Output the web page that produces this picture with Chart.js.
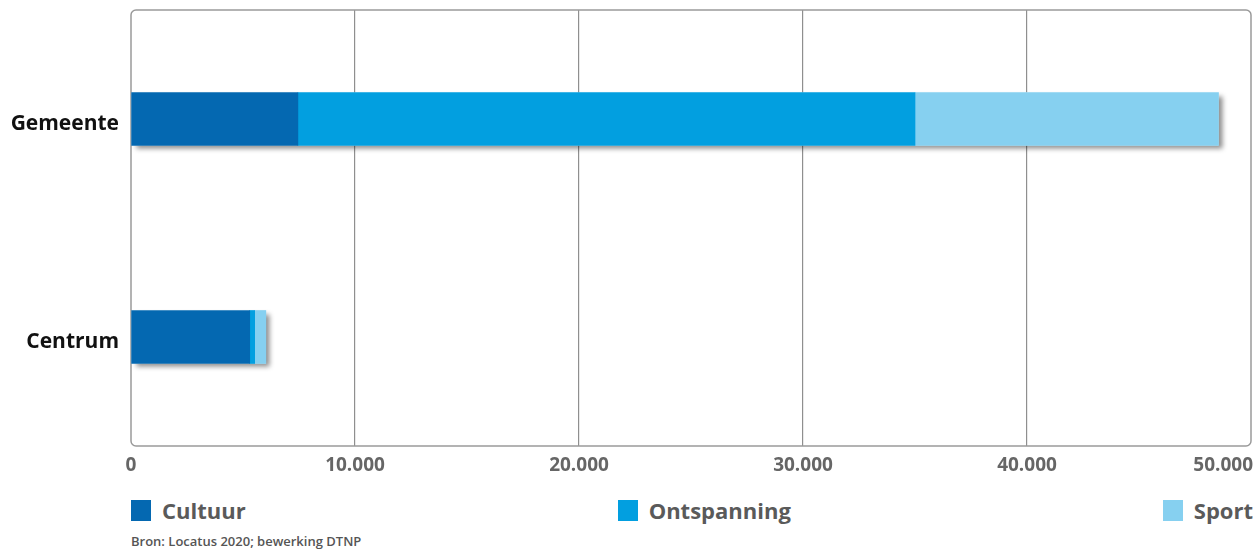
<!DOCTYPE html>
<html lang="nl">
<head>
<meta charset="utf-8">
<title>Voorzieningen Cultuur, Ontspanning en Sport</title>
<script src="https://cdn.jsdelivr.net/npm/chart.js@4/dist/chart.umd.min.js"></script>
<style>
  html, body { margin: 0; padding: 0; background: #fff; }
  body { width: 1256px; height: 550px; position: relative; overflow: hidden;
         font-family: "Open Sans", "DejaVu Sans", sans-serif; }
  #wrap { position: absolute; left: 0; top: -12px; width: 1256px; height: 492px; }
  #legend { position: absolute; left: 131px; top: 495px; width: 1122px;
            display: flex; justify-content: space-between; align-items: center; }
  .item { display: flex; align-items: center; font-weight: 700; font-size: 22px; color: #5a5a5a; }
  .swatch { width: 20px; height: 21px; margin-right: 11px; }
  #source { position: absolute; left: 131px; top: 532px; font-size: 13px; font-weight: 600; color: #555; }
</style>
</head>
<body>
<div id="wrap"><canvas id="chart"></canvas></div>
<div id="legend"></div>
<div id="source">Bron: Locatus 2020; bewerking DTNP</div>
<script>
// Categories and series (aantal voorzieningen per gebied)
const categories = ['Gemeente', 'Centrum'];
const cultuur     = [7450, 5300];
const ontspanning = [27550, 220];
const sport       = [13550, 500];
const xTicks = [0, 10000, 20000, 30000, 40000, 50000];
const xTickLabels = ['0', '10.000', '20.000', '30.000', '40.000', '50.000'];

const colors = { cultuur: '#0468b1', ontspanning: '#029fe0', sport: '#86d0f0' };

// Rounded frame around the plot area
const frame = {
  id: 'frame',
  beforeDatasetsDraw(chart) {
    const { ctx, chartArea: a } = chart;
    ctx.save();
    ctx.strokeStyle = '#9a9a9a';
    ctx.lineWidth = 1.5;
    ctx.beginPath();
    ctx.roundRect(a.left, a.top, a.right - a.left, a.bottom - a.top, 5);
    ctx.stroke();
    ctx.restore();
  }
};

// Soft drop shadow behind each whole stacked bar
const barShadow = {
  id: 'barShadow',
  beforeDatasetsDraw(chart) {
    const ctx = chart.ctx;
    const metas = chart.getSortedVisibleDatasetMetas();
    if (!metas.length) return;
    ctx.save();
    ctx.shadowColor = 'rgba(0,0,0,0.45)';
    ctx.shadowOffsetX = 4;
    ctx.shadowOffsetY = 4;
    ctx.shadowBlur = 5;
    ctx.fillStyle = '#fff';
    metas[0].data.forEach((el, j) => {
      let lo = Infinity, hi = -Infinity;
      metas.forEach(m => {
        const e = m.data[j];
        lo = Math.min(lo, e.base, e.x);
        hi = Math.max(hi, e.base, e.x);
      });
      ctx.fillRect(lo, el.y - el.height / 2, hi - lo, el.height);
    });
    ctx.restore();
  }
};

// Value labels under the x axis; the last one is right aligned to the frame
const xLabels = {
  id: 'xLabels',
  afterDraw(chart) {
    const { ctx, chartArea: a } = chart;
    const sx = chart.scales.x;
    ctx.save();
    ctx.font = '700 19px "Open Sans", sans-serif';
    ctx.fillStyle = '#666';
    ctx.textBaseline = 'top';
    xTicks.forEach((v, i) => {
      const px = sx.getPixelForValue(v);
      const last = i === xTicks.length - 1;
      ctx.textAlign = last ? 'right' : 'center';
      ctx.fillText(xTickLabels[i], last ? px + 2 : px, a.bottom + 10);
    });
    ctx.restore();
  }
};

const datasets = [
  { label: 'Cultuur', data: cultuur, backgroundColor: colors.cultuur },
  { label: 'Ontspanning', data: ontspanning, backgroundColor: colors.ontspanning },
  { label: 'Sport', data: sport, backgroundColor: colors.sport }
];

const chart = new Chart(document.getElementById('chart'), {
  type: 'bar',
  data: { labels: categories, datasets: datasets.map(d => Object.assign({ barThickness: 53, borderWidth: 0 }, d)) },
  options: {
    indexAxis: 'y',
    responsive: true,
    maintainAspectRatio: false,
    animation: false,
    layout: { padding: { top: 0, right: 5, bottom: 34, left: 0 } },
    plugins: { legend: { display: false }, tooltip: { enabled: false } },
    scales: {
      x: {
        stacked: true,
        min: 0, max: 50000,
        afterBuildTicks(scale) { scale.ticks = xTicks.map(v => ({ value: v })); },
        ticks: { display: false },
        grid: {
          color: ctx => (ctx.tick && (ctx.tick.value === 0 || ctx.tick.value === 50000)) ? 'rgba(0,0,0,0)' : '#8f8f8f',
          lineWidth: 1.2, drawTicks: false
        },
        border: { display: false }
      },
      y: {
        stacked: true,
        afterFit(scale) { scale.width = 131; },
        ticks: { color: '#111', padding: 12, labelOffset: 5, font: { family: '"Open Sans", sans-serif', size: 21, weight: '700', lineHeight: 0.95 } },
        grid: { display: false, drawTicks: false },
        border: { display: false }
      }
    }
  },
  plugins: [frame, barShadow, xLabels]
});

// Legend spread across the width of the plot
const legend = document.getElementById('legend');
datasets.forEach(d => {
  const item = document.createElement('div');
  item.className = 'item';
  const sw = document.createElement('span');
  sw.className = 'swatch';
  sw.style.background = d.backgroundColor;
  const tx = document.createElement('span');
  tx.textContent = d.label;
  item.appendChild(sw);
  item.appendChild(tx);
  legend.appendChild(item);
});
</script>
</body>
</html>
